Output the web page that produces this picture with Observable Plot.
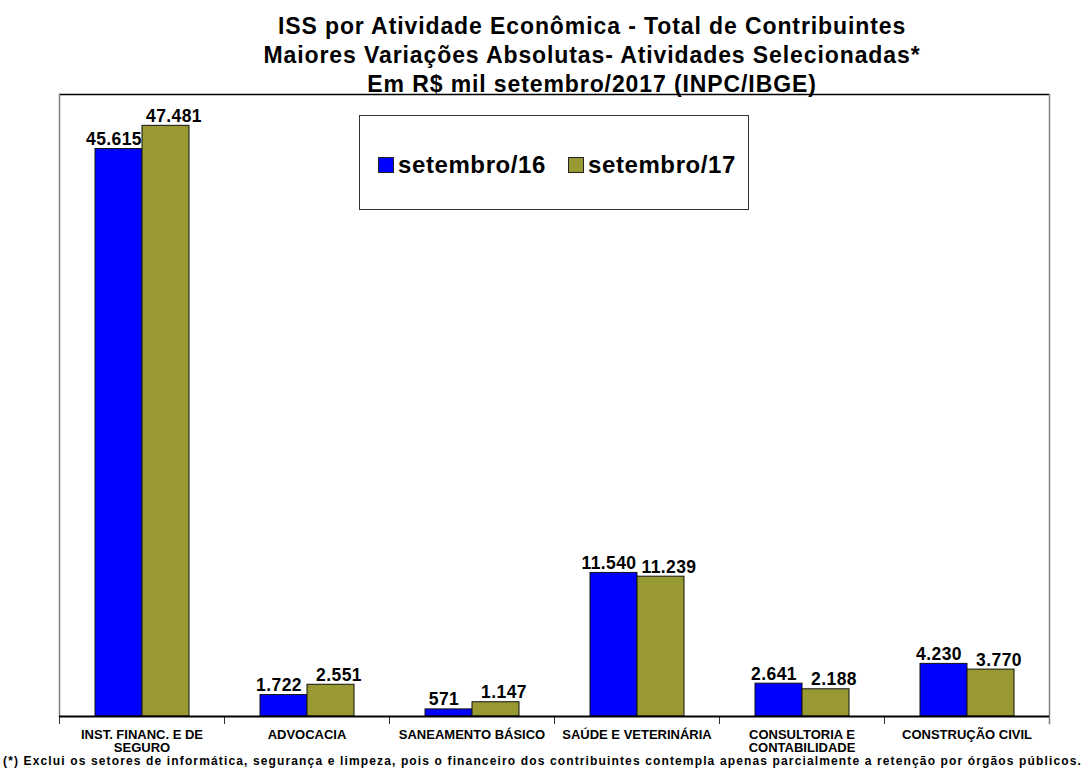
<!DOCTYPE html>
<html><head><meta charset="utf-8">
<script src="https://cdn.jsdelivr.net/npm/d3@7"></script>
<script src="https://cdn.jsdelivr.net/npm/@observablehq/plot@0.6"></script>
<style>
body{margin:0;background:#fff;font-family:"Liberation Sans",Arial,sans-serif;}
#wrap{position:relative;width:1087px;height:773px;overflow:hidden;}
#chart{position:absolute;left:0;top:0;}
#chart g[aria-label="text"] text{letter-spacing:0.4px;}
#title{position:absolute;left:92px;top:12px;width:1000px;text-align:center;font-weight:bold;font-size:23px;line-height:29px;letter-spacing:0.9px;color:#000;}
#legend{position:absolute;left:359px;top:115px;width:390px;height:95px;box-sizing:border-box;border:1.5px solid #333;background:#fff;}
.sw{position:absolute;width:14px;height:14px;border:1px solid #222;}
.lt{position:absolute;font-weight:bold;font-size:24px;line-height:24px;letter-spacing:0.6px;color:#000;white-space:nowrap;}
#foot{position:absolute;left:3px;top:755px;font-weight:bold;font-size:12px;line-height:13px;color:#000;white-space:nowrap;}
</style>
</head><body>
<div id="wrap">
  <div id="chart"></div>
  <div id="title">ISS por Atividade Econômica - Total de Contribuintes<br>Maiores Variações Absolutas- Atividades Selecionadas*<br>Em R$ mil setembro/2017 (INPC/IBGE)</div>
  <div id="legend"></div>
  <div id="foot">(*) Exclui os setores de informática, segurança e limpeza, pois o financeiro dos contribuintes contempla apenas parcialmente a retenção por órgãos públicos.</div>
</div>
<script>
const categories = ["INST. FINANC. E DE SEGURO","ADVOCACIA","SANEAMENTO BÁSICO","SAÚDE E VETERINÁRIA","CONSULTORIA E CONTABILIDADE","CONSTRUÇÃO CIVIL"];
const categoryLabels = ["INST. FINANC. E DE\nSEGURO","ADVOCACIA","SANEAMENTO BÁSICO","SAÚDE E VETERINÁRIA","CONSULTORIA E\nCONTABILIDADE","CONSTRUÇÃO CIVIL"];
const series = ["setembro/16","setembro/17"];
const values16 = [45615,1722,571,11540,2641,4230];
const values17 = [47481,2551,1147,11239,2188,3770];
const colors = ["#0000ff","#999933"];
const yMax = 50000;

const rows = categories.flatMap((c,i)=>[
  {category:c, series:series[0], value:values16[i]},
  {category:c, series:series[1], value:values17[i]}
]);
const fmt = d3.formatLocale({decimal:",",thousands:".",grouping:[3],currency:["R$",""]}).format(",.0f");

const W = 1087, H = 773, mTop = 94, mBottom = 57, mLeft = 58, mRight = 38;
const innerH = H - mTop - mBottom;
const labelShift = [-5, 8];

const chart = Plot.plot({
  width: W, height: H,
  marginTop: mTop, marginBottom: mBottom, marginLeft: mLeft, marginRight: mRight,
  style: {fontFamily: '"Liberation Sans", Arial, sans-serif', background: "transparent", overflow: "visible"},
  fx: {domain: categories, padding: 0, axis: null, label: null},
  x: {domain: series, paddingInner: 0, paddingOuter: 0.74, axis: null},
  y: {domain: [0, yMax], axis: null},
  color: {domain: series, range: colors},
  marks: [
    Plot.ruleY([yMax], {stroke: "#000", strokeWidth: 1.5}),
    Plot.frame({anchor: "left", insetTop: innerH, insetBottom: -7, stroke: "#333", strokeWidth: 1}),
    Plot.frame({anchor: "left", facet: "super", stroke: "#808080", strokeWidth: 1.5}),
    Plot.frame({anchor: "right", facet: "super", stroke: "#808080", strokeWidth: 1.5, insetBottom: -7}),
    Plot.barY(rows, {fx: "category", x: "series", y: "value", fill: "series", stroke: "#111", strokeWidth: 1}),
    Plot.ruleY([0], {stroke: "#000", strokeWidth: 2}),
    ...series.map((s, k) => Plot.text(rows.filter(d => d.series === s), {fx: "category", x: "series", y: "value", text: d => fmt(d.value), lineAnchor: "bottom", dy: -4, dx: labelShift[k], fontSize: 17.5, fontWeight: "bold", fill: "#000"})),
    Plot.axisFx({anchor: "bottom", tickSize: 0, tickPadding: 13, label: null, fontSize: 13, fontWeight: "bold", lineHeight: 1.02, fill: "#000",
      tickFormat: c => categoryLabels[categories.indexOf(c)]})
  ]
});
document.getElementById("chart").appendChild(chart);

const legend = document.getElementById("legend");
const swLeft = [18, 208], txLeft = [38, 228];
series.forEach((s, i) => {
  const sw = document.createElement("div");
  sw.className = "sw";
  sw.style.left = swLeft[i] + "px"; sw.style.top = "41px"; sw.style.background = colors[i];
  legend.appendChild(sw);
  const t = document.createElement("div");
  t.className = "lt"; t.textContent = s;
  t.style.left = txLeft[i] + "px"; t.style.top = "37px";
  legend.appendChild(t);
});

// stretch footnote to the reference's full line width
const foot = document.getElementById("foot");
const target = 1079;
const w0 = foot.getBoundingClientRect().width;
const n = foot.textContent.length;
foot.style.letterSpacing = Math.max(0, (target - w0) / n) + "px";
</script>
</body></html>
